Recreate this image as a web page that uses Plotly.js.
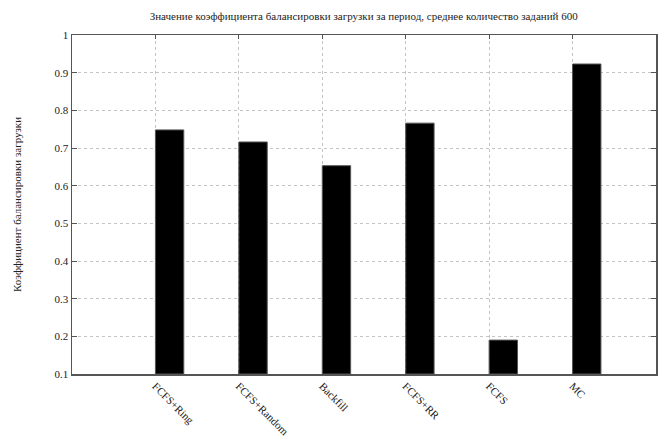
<!DOCTYPE html>
<html>
<head>
<meta charset="utf-8">
<script src="https://cdn.plot.ly/plotly-3.0.1.min.js"></script>
<style>
  html, body { margin: 0; padding: 0; background: #fff; }
  #chart { width: 665px; height: 442px; }
</style>
</head>
<body>
<div id="chart"></div>
<script>
// Scheduling strategies and their load-balancing coefficient
const categories = ["FCFS+Ring", "FCFS+Random", "Backfill", "FCFS+RR", "FCFS", "MC"];
const values = [0.748, 0.716, 0.653, 0.766, 0.190, 0.923];
const yTicks = [0.1, 0.2, 0.3, 0.4, 0.5, 0.6, 0.7, 0.8, 0.9, 1];
const yTickText = ["0.1", "0.2", "0.3", "0.4", "0.5", "0.6", "0.7", "0.8", "0.9", "1"];

const titleText = "Значение коэффициента балансировки загрузки за период, среднее количество заданий 600";
const yTitleText = "Коэффициент балансировки загрузки";

const yFloor = 0.1;

// Each strategy sits at integer position 1..N; bars start at the tick
const positions = categories.map((_, i) => i + 1);

const serif = "Liberation Serif";

const trace = {
  type: "bar",
  x: positions,
  // bars rise from the axis floor, so the drawn height is value - floor
  y: values.map(v => v - yFloor),
  base: yFloor,
  width: 0.34,
  offset: 0,
  marker: { color: "#000", line: { color: "#555", width: 1 } },
  hoverinfo: "skip"
};

const layout = {
  width: 665,
  height: 442,
  margin: { l: 72, r: 9, t: 35, b: 68 },
  paper_bgcolor: "#fff",
  plot_bgcolor: "#fff",
  showlegend: false,
  bargap: 0,
  font: { family: serif },
  title: {
    text: titleText,
    font: { family: serif, size: 11, color: "#222" },
    x: 0.547,
    xanchor: "center",
    y: 0.963,
    yanchor: "middle"
  },
  xaxis: {
    range: [0, 7],
    tickvals: positions,
    ticktext: categories,
    tickangle: 45,
    tickfont: { family: serif, size: 11, color: "#222" },
    showgrid: true,
    gridcolor: "#c4c4c4",
    griddash: "dot",
    gridwidth: 1,
    zeroline: false,
    showline: true,
    linecolor: "#555",
    linewidth: 1.5,
    mirror: "ticks",
    ticks: "inside",
    ticklen: 4,
    tickcolor: "#555",
    fixedrange: true
  },
  yaxis: {
    range: [yFloor, 1],
    tickvals: yTicks,
    ticktext: yTickText,
    tickfont: { family: serif, size: 11, color: "#222" },
    showgrid: true,
    gridcolor: "#c4c4c4",
    griddash: "dot",
    gridwidth: 1,
    zeroline: false,
    showline: true,
    linecolor: "#555",
    linewidth: 1.5,
    mirror: "ticks",
    ticks: "inside",
    ticklen: 5,
    tickcolor: "#555",
    title: {
      text: yTitleText,
      font: { family: serif, size: 11, color: "#222" },
      standoff: 30
    },
    fixedrange: true
  }
};

Plotly.newPlot("chart", [trace], layout, { staticPlot: true, displayModeBar: false });
</script>
</body>
</html>
